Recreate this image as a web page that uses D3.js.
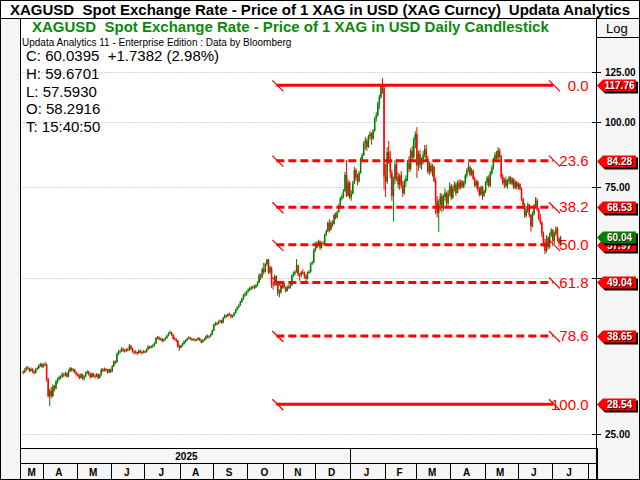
<!DOCTYPE html>
<html>
<head>
<meta charset="utf-8">
<script src="https://cdn.jsdelivr.net/npm/d3@7"></script>
<style>
body{margin:0;background:#fff;}
svg{display:block;font-family:Arial,"Liberation Sans",sans-serif;}
</style>
</head>
<body>
<div id="chart"></div>
<script>
// date axis: one slot per trading day (last slots are empty, right margin)
var monthLabels=["M","A","M","J","J","A","S","O","N","D","J","F","M","A","M","J","J",""];
var monthSlots=[13,22,22,21,23,21,22,23,20,23,22,20,22,22,21,22,23,6];
var yearLabels=["2025",""];
var yearMonths=[10,8];

// daily candles, Mar 2025 .. Jul 2026 (one line per month)
var open=[
33.0,32.9,33.2,33.6,33.5,33.1,33.4,33.0,32.8,33.3,33.5,33.9,34.1,
33.7,34.0,34.1,31.9,29.6,30.3,29.6,30.9,30.6,31.6,31.9,32.2,32.3,32.6,32.5,32.7,32.3,33.1,33.5,33.2,33.3,32.9,
32.6,32.4,32.1,32.6,32.0,32.3,32.8,33.0,32.6,32.2,32.7,32.4,32.3,32.6,32.1,32.5,33.3,33.1,33.4,33.2,32.9,33.3,
33.0,33.8,34.5,34.4,35.7,36.0,36.1,36.5,36.3,36.2,36.4,36.3,37.0,36.5,36.1,35.9,36.0,35.8,36.2,36.0,35.9,
36.1,36.0,36.4,36.9,36.7,36.9,37.0,37.4,38.3,38.4,38.1,38.2,37.8,38.0,38.3,38.7,39.1,39.3,38.9,38.2,38.1,37.9,36.9,
36.7,37.0,37.3,37.7,37.9,38.2,38.4,38.2,38.0,38.1,37.9,38.0,38.3,38.0,37.6,37.9,38.1,38.6,38.5,38.6,38.9,
39.6,40.6,40.9,40.8,41.2,41.4,41.0,41.9,42.4,42.2,42.6,42.5,42.1,42.3,42.8,43.4,43.9,44.3,45.0,45.6,46.4,46.6,
47.1,47.4,47.8,47.9,48.1,48.0,48.4,49.0,50.6,50.2,52.0,51.4,53.2,54.3,51.3,52.4,48.7,48.5,50.4,48.6,46.8,46.9,48.3,
48.7,48.0,47.2,48.1,47.9,48.4,50.6,51.1,51.4,52.9,50.8,50.7,51.3,51.2,50.5,49.9,51.3,51.4,53.4,53.6,
56.4,57.2,58.4,58.9,57.2,58.4,58.2,60.6,61.6,63.9,62.0,63.9,63.6,66.2,65.5,67.1,69.0,71.2,71.8,73.6,79.2,72.1,76.4,
71.6,72.8,76.2,80.9,78.1,76.9,79.8,84.9,86.4,91.0,92.1,89.6,93.9,95.0,92.9,96.2,101.5,103.1,108.6,111.8,117.1,116.3,
78.5,76.8,87.5,85.0,79.8,72.0,77.6,82.8,78.5,75.8,78.9,75.5,72.9,76.8,77.9,83.5,81.2,88.0,85.5,92.5,
94.8,82.5,86.8,82.6,84.7,86.5,88.8,85.0,80.2,82.5,80.3,82.0,77.0,70.5,66.8,69.5,72.0,68.2,71.6,73.0,69.8,72.8,
75.3,71.5,74.5,75.8,73.0,76.4,74.8,76.9,75.1,76.2,78.9,80.6,81.9,79.2,80.7,77.8,75.5,76.8,74.2,72.5,74.9,72.2,
73.6,76.5,78.0,75.4,79.8,81.5,84.8,86.5,85.2,88.2,86.0,78.4,76.2,77.4,75.3,76.8,78.2,76.1,77.6,74.8,76.6,
74.9,75.9,74.3,71.0,69.2,66.0,67.5,69.3,66.2,63.0,66.5,68.9,70.6,67.8,65.2,64.0,61.0,58.6,56.4,59.8,57.5,60.6,
61.8,59.0,60.9,62.3,59.5,58.29];
var high=[
33.2,33.5,33.8,33.8,33.6,33.6,33.5,33.2,33.5,33.7,34.1,34.3,34.3,
34.2,34.5,34.2,32.1,30.6,30.8,31.2,31.1,31.8,32.1,32.4,32.5,32.9,32.8,33.0,32.9,33.3,33.7,33.6,33.5,33.4,33.0,
32.8,32.6,32.8,32.7,32.5,33.0,33.2,33.1,32.8,32.9,32.8,32.6,32.8,32.7,32.7,33.5,33.5,33.6,33.5,33.4,33.5,33.4,
34.0,34.7,34.7,35.9,36.3,36.4,36.8,36.7,36.5,36.6,36.7,37.3,37.2,36.7,36.3,36.3,36.1,36.4,36.4,36.2,36.3,
36.3,36.6,37.1,37.0,37.1,37.3,37.6,38.5,38.7,38.6,38.4,38.3,38.2,38.5,38.9,39.3,39.6,39.4,39.0,38.5,38.3,38.0,37.2,
37.2,37.5,37.9,38.1,38.4,38.6,38.5,38.3,38.3,38.2,38.2,38.5,38.4,38.1,38.1,38.3,38.8,38.9,38.8,39.1,39.8,
40.8,41.2,41.1,41.4,41.6,41.5,42.1,42.6,42.5,42.8,42.9,42.6,42.5,43.0,43.6,44.1,44.5,45.2,45.8,46.6,47.0,47.3,
47.8,48.1,48.3,48.4,48.5,48.7,49.3,51.1,51.0,52.4,53.5,53.5,54.5,54.4,52.9,52.6,49.4,50.8,50.6,48.8,47.6,48.6,49.2,
49.0,48.2,48.4,48.6,48.7,50.8,51.5,51.8,54.4,53.1,51.2,51.6,52.0,51.5,50.9,51.5,51.9,53.6,54.0,57.0,
58.8,58.8,59.3,59.1,58.7,58.9,60.9,62.0,64.3,65.0,64.5,64.6,66.6,67.0,67.5,69.5,71.8,72.6,74.3,80.2,84.5,77.5,77.0,
74.0,77.0,82.0,81.5,79.5,80.5,85.5,87.2,91.8,93.6,93.0,94.5,96.0,95.6,97.0,102.3,104.5,109.5,113.0,118.0,121.6,117.5,
83.0,89.5,92.0,88.0,81.0,78.5,84.5,85.0,80.0,79.5,80.5,77.0,77.5,79.0,84.5,86.0,89.0,90.0,93.5,96.0,
97.8,88.0,88.5,85.5,88.0,90.3,90.5,86.0,84.0,83.5,83.0,82.5,78.0,72.0,71.0,73.0,72.8,72.5,74.5,73.5,74.0,76.5,
76.0,75.5,77.0,76.5,77.2,77.5,77.5,77.3,77.0,79.5,81.5,83.6,82.5,81.5,81.0,78.5,77.5,77.2,75.0,75.5,75.3,74.2,
77.0,78.8,79.0,80.5,82.5,85.5,87.5,88.0,89.5,89.0,86.5,79.5,78.0,78.5,77.6,78.8,78.6,78.3,78.0,77.2,77.0,
76.5,76.3,74.8,71.5,69.8,68.8,70.0,69.5,66.5,67.2,69.5,71.7,71.4,68.3,66.5,64.5,61.5,59.5,60.5,60.2,61.2,62.5,
62.2,61.5,63.0,62.8,60.0,60.3];
var low=[
32.6,32.8,33.1,33.3,32.9,33.0,32.8,32.6,32.7,33.2,33.4,33.7,33.5,
33.6,33.8,31.6,29.4,28.3,29.3,29.5,30.2,30.5,31.3,31.7,31.9,32.1,32.2,32.3,32.1,32.2,32.9,33.0,32.9,32.7,32.4,
32.2,31.9,32.0,31.8,31.7,32.2,32.6,32.4,32.0,32.1,32.2,32.0,32.2,31.9,32.0,32.4,32.9,33.0,33.0,32.7,32.8,32.8,
32.9,33.7,34.1,34.3,35.5,35.8,36.0,36.0,35.9,36.0,36.1,36.2,36.3,35.9,35.6,35.7,35.5,35.7,35.8,35.6,35.8,
35.8,35.9,36.3,36.5,36.6,36.7,36.9,37.3,38.1,37.9,37.9,37.6,37.7,37.9,38.2,38.6,39.0,38.7,38.0,37.9,37.6,36.7,36.2,
36.6,36.9,37.2,37.5,37.8,38.1,38.0,37.8,37.9,37.7,37.8,37.9,37.8,37.4,37.5,37.8,38.0,38.3,38.2,38.5,38.8,
39.5,40.4,40.5,40.7,41.0,40.8,40.9,41.8,41.9,42.1,42.3,41.8,41.9,42.2,42.7,43.3,43.7,44.2,44.8,45.4,46.0,46.2,
46.9,47.2,47.4,47.6,47.6,47.8,48.2,48.9,49.6,50.0,50.8,51.2,52.8,50.9,50.9,47.9,47.5,48.3,48.3,46.2,45.9,46.7,48.0,
47.8,46.9,47.1,47.6,47.7,48.3,50.3,50.6,51.2,50.4,49.4,50.2,50.8,49.9,49.1,49.7,50.9,51.2,53.0,53.4,
56.2,57.0,57.6,56.6,57.0,57.8,58.0,60.3,61.4,61.2,61.8,62.8,63.4,64.9,65.2,66.9,68.8,70.6,71.3,73.4,71.7,71.9,71.0,
70.5,72.5,76.0,77.0,75.6,76.5,79.5,84.0,86.0,88.5,88.0,89.2,92.5,90.5,92.5,95.8,100.2,102.5,106.0,111.0,113.5,74.0,
71.7,76.0,83.0,78.0,70.5,64.3,76.0,77.0,74.5,74.0,74.5,71.7,72.5,75.0,77.0,80.0,80.5,84.0,85.0,89.0,
78.0,80.5,81.5,81.0,83.0,85.5,84.0,79.5,79.0,79.5,78.5,76.5,66.4,65.5,61.4,67.5,67.0,67.5,70.5,68.6,69.0,72.0,
70.8,71.0,73.5,72.0,72.8,74.0,74.2,74.5,74.6,75.8,78.0,80.0,78.5,78.8,77.3,75.0,74.5,73.5,71.8,72.0,70.8,71.7,
73.0,75.5,74.8,75.0,79.0,81.0,84.0,84.3,84.8,85.2,77.5,75.5,74.5,74.8,74.4,76.0,75.8,75.5,74.2,74.3,74.0,
74.2,73.8,70.5,68.0,65.3,65.5,66.8,65.5,61.5,62.6,66.0,68.4,67.2,64.7,63.4,60.0,57.5,55.6,56.0,56.8,57.0,60.0,
58.5,58.2,60.3,58.8,57.5,57.59];
var close=[
32.9,33.2,33.6,33.5,33.1,33.4,33.0,32.8,33.3,33.5,33.9,34.1,33.7,
34.0,34.1,31.9,29.6,30.3,29.6,30.9,30.6,31.6,31.9,32.2,32.3,32.6,32.5,32.7,32.3,33.1,33.5,33.2,33.3,32.9,32.6,
32.4,32.1,32.6,32.0,32.3,32.8,33.0,32.6,32.2,32.7,32.4,32.3,32.6,32.1,32.5,33.3,33.1,33.4,33.2,32.9,33.3,33.0,
33.8,34.5,34.4,35.7,36.0,36.1,36.5,36.3,36.2,36.4,36.3,37.0,36.5,36.1,35.9,36.0,35.8,36.2,36.0,35.9,36.1,
36.0,36.4,36.9,36.7,36.9,37.0,37.4,38.3,38.4,38.1,38.2,37.8,38.0,38.3,38.7,39.1,39.3,38.9,38.2,38.1,37.9,36.9,36.7,
37.0,37.3,37.7,37.9,38.2,38.4,38.2,38.0,38.1,37.9,38.0,38.3,38.0,37.6,37.9,38.1,38.6,38.5,38.6,38.9,39.6,
40.6,40.9,40.8,41.2,41.4,41.0,41.9,42.4,42.2,42.6,42.5,42.1,42.3,42.8,43.4,43.9,44.3,45.0,45.6,46.4,46.6,47.1,
47.4,47.8,47.9,48.1,48.0,48.4,49.0,50.6,50.2,52.0,51.4,53.2,54.3,51.3,52.4,48.7,48.5,50.4,48.6,46.8,46.9,48.3,48.7,
48.0,47.2,48.1,47.9,48.4,50.6,51.1,51.4,52.9,50.8,50.7,51.3,51.2,50.5,49.9,51.3,51.4,53.4,53.6,56.4,
57.2,58.4,58.9,57.2,58.4,58.2,60.6,61.6,63.9,62.0,63.9,63.6,66.2,65.5,67.1,69.0,71.2,71.8,73.6,79.2,72.1,76.4,71.6,
72.8,76.2,80.9,78.1,76.9,79.8,84.9,86.4,91.0,92.1,89.6,93.9,95.0,92.9,96.2,101.5,103.1,108.6,111.8,117.1,116.3,78.5,
76.8,87.5,85.0,79.8,72.0,77.6,82.8,78.5,75.8,78.9,75.5,72.9,76.8,77.9,83.5,81.2,88.0,85.5,92.5,94.8,
82.5,86.8,82.6,84.7,86.5,88.8,85.0,80.2,82.5,80.3,82.0,77.0,70.5,66.8,69.5,72.0,68.2,71.6,73.0,69.8,72.8,75.3,
71.5,74.5,75.8,73.0,76.4,74.8,76.9,75.1,76.2,78.9,80.6,81.9,79.2,80.7,77.8,75.5,76.8,74.2,72.5,74.9,72.2,73.6,
76.5,78.0,75.4,79.8,81.5,84.8,86.5,85.2,88.2,86.0,78.4,76.2,77.4,75.3,76.8,78.2,76.1,77.6,74.8,76.6,74.9,
75.9,74.3,71.0,69.2,66.0,67.5,69.3,66.2,63.0,66.5,68.9,70.6,67.8,65.2,64.0,61.0,58.6,56.4,59.8,57.5,60.6,61.8,
59.0,60.9,62.3,59.5,58.3,60.04];

var axisTicks=[25,50,75,100,125];
var fibLabels=["0.0","23.6","38.2","50.0","61.8","78.6","100.0"];
var fibPrices=[117.76,84.28,68.53,57.97,49.04,38.65,28.54];
var fibStart=160;
var lastPrice=60.04;
var infoLines=["C: 60.0395  +1.7382 (2.98%)","H: 59.6701","L: 57.5930","O: 58.2916","T: 15:40:50"];

function CandleChart(options){

    this.width=options.width||640;
    this.height=options.height||480;
    this.ele=options.ele||"body";
    this.left=20.5;
    this.right=596.5;
    this.top=37;
    this.bottom=448;
    this.data=d3.range(close.length).map(function(i){
        return {i:i,o:open[i],h:high[i],l:low[i],c:close[i]};
    });
    this.x=d3.scaleLinear().domain([0,d3.sum(monthSlots)]).range([22.4,597.3]);
    this.y=d3.scaleLog().domain([23.5,146]).range([this.bottom,this.top]);
    this.svg=d3.select(this.ele).append("svg")
        .attr("width",this.width)
        .attr("height",this.height);
}

CandleChart.prototype.frame=function(){
    var svg=this.svg;
    svg.append("rect").attr("width",this.width).attr("height",this.height).attr("fill","#fff");
    svg.append("rect").attr("x",0).attr("y",18.5).attr("width",this.left).attr("height",462).attr("fill","#f5f5f5");
    svg.append("rect").attr("x",this.right).attr("y",18.5).attr("width",this.width-this.right).attr("height",462).attr("fill","#f5f5f5");
    svg.append("rect").attr("x",this.left).attr("y",this.bottom).attr("width",this.right-this.left).attr("height",32).attr("fill","#f5f5f5");
};

CandleChart.prototype.grid=function(){
    var y=this.y;
    this.svg.append("g").selectAll("line").data(axisTicks).enter().append("line")
        .attr("x1",this.left).attr("x2",593)
        .attr("y1",function(d){return Math.round(y(d))+0.5})
        .attr("y2",function(d){return Math.round(y(d))+0.5})
        .attr("stroke","#aaa").attr("stroke-dasharray","1,2");
};

CandleChart.prototype.info=function(){
    this.svg.append("g").selectAll("text").data(infoLines).enter().append("text")
        .attr("x",26).attr("y",function(d,i){return 61+i*17.8})
        .style("white-space","pre")
        .attr("font-size",15).attr("fill","#000")
        .text(function(d){return d});
};

CandleChart.prototype.chart=function(){
    var x=this.x,y=this.y;
    var g=this.svg.append("g");
    var col=function(d){return d.c>=d.o?"#008000":"#ff0000"};
    var c=g.selectAll(".candle").data(this.data).enter().append("g").attr("class","candle");
    c.append("line")
        .attr("x1",function(d){return x(d.i+0.5)}).attr("x2",function(d){return x(d.i+0.5)})
        .attr("y1",function(d){return y(d.h)}).attr("y2",function(d){return y(d.l)})
        .attr("stroke",col).attr("stroke-width",1);
    c.append("rect")
        .attr("x",function(d){return x(d.i+0.5)-0.75})
        .attr("width",1.5)
        .attr("y",function(d){return y(Math.max(d.o,d.c))})
        .attr("height",function(d){return Math.max(1,Math.abs(y(d.o)-y(d.c)))})
        .attr("fill",col);
};

CandleChart.prototype.fib=function(){
    var y=this.y,x0=this.x(fibStart),x1=553;
    var g=this.svg.append("g");
    fibPrices.forEach(function(p,i){
        var yy=y(p);
        var solid=(i==0||i==fibPrices.length-1);
        g.append("line").attr("x1",x0+4).attr("x2",x1).attr("y1",yy).attr("y2",yy)
            .attr("stroke","#ff0000").attr("stroke-width",3)
            .attr("stroke-dasharray",solid?null:"8,4");
        [x0,549].forEach(function(xx){
            g.append("line").attr("x1",xx).attr("y1",yy-5).attr("x2",xx+11).attr("y2",yy+6)
                .attr("stroke","#ff0000").attr("stroke-width",1.3);
        });
        g.append("text").attr("x",588.5).attr("y",yy+5.3)
            .attr("text-anchor","end").attr("font-size",15).attr("fill","#ff0000")
            .text(fibLabels[i]);
    });
};

CandleChart.prototype.axis=function(){
    var y=this.y,svg=this.svg;
    var g=svg.append("g");
    var tagged=fibPrices.concat([lastPrice]);
    axisTicks.forEach(function(t){
        var yy=Math.round(y(t))+0.5;
        g.append("line").attr("x1",592).attr("x2",601).attr("y1",yy).attr("y2",yy).attr("stroke","#000");
        // a price tag hides the tick label it sits on
        var hidden=tagged.some(function(p){return Math.abs(y(p)-y(t))<9});
        if(!hidden)
        g.append("text").attr("x",605).attr("y",yy+3.5).attr("font-size",10).attr("font-weight","bold")
            .text(d3.format(".2f")(t));
    });
    var tag=function(v,fill){
        var yy=Math.round(y(v))+0.5;
        var p="M597,"+yy+"L603,"+(yy-6)+"L636,"+(yy-6)+"L636,"+(yy+6)+"L603,"+(yy+6)+"Z";
        g.append("path").attr("d",p).attr("transform","translate(2,2)").attr("fill","#000");
        g.append("path").attr("d",p).attr("fill",fill);
        g.append("text").attr("x",620.5).attr("y",yy+4.5).attr("text-anchor","middle")
            .attr("font-size",10).attr("font-weight","bold").attr("fill","#400")
            .text(v.toFixed(2));
        g.append("text").attr("x",619.5).attr("y",yy+3.5).attr("text-anchor","middle")
            .attr("font-size",10).attr("font-weight","bold").attr("fill","#fff")
            .text(v.toFixed(2));
    };
    fibPrices.forEach(function(p){tag(p,"#ff0000")});
    tag(lastPrice,"#008000");
};

CandleChart.prototype.dates=function(){
    var x=this.x,svg=this.svg,left=this.left,right=this.right;
    var g=svg.append("g");
    var starts=[0];
    monthSlots.forEach(function(s,i){starts.push(starts[i]+s)});
    monthLabels.forEach(function(m,i){
        var a=Math.max(left,x(starts[i])),b=Math.min(right,x(starts[i+1]));
        g.append("line").attr("x1",Math.round(b)+0.5).attr("x2",Math.round(b)+0.5)
            .attr("y1",463).attr("y2",480).attr("stroke","#000");
        g.append("text").attr("x",(a+b)/2-1).attr("y",476).attr("text-anchor","middle")
            .attr("font-size",10).attr("font-weight","bold").text(m);
    });
    var m0=0;
    yearLabels.forEach(function(yl,i){
        var a=Math.max(left,x(starts[m0])),b=Math.min(right,x(starts[m0+yearMonths[i]]));
        g.append("line").attr("x1",Math.round(b)+0.5).attr("x2",Math.round(b)+0.5)
            .attr("y1",448).attr("y2",463).attr("stroke","#000");
        g.append("text").attr("x",(a+b)/2).attr("y",460).attr("text-anchor","middle")
            .attr("font-size",10).attr("font-weight","bold").text(yl);
        m0+=yearMonths[i];
    });
};

CandleChart.prototype.borders=function(){
    var svg=this.svg,s="#000";
    var L=function(x1,y1,x2,y2){svg.append("line").attr("x1",x1).attr("y1",y1).attr("x2",x2).attr("y2",y2).attr("stroke",s)};
    L(0,18.5,640,18.5);
    L(this.left,18.5,this.left,480);
    L(this.right,18.5,this.right,480);
    L(this.right,37.5,640,37.5);
    L(this.left,448.5,this.right,448.5);
    L(this.left,463.5,this.right,463.5);
    svg.append("rect").attr("x",0.5).attr("y",0.5).attr("width",639).attr("height",479)
        .attr("fill","none").attr("stroke",s);
};

CandleChart.prototype.titles=function(){
    var svg=this.svg;
    svg.append("text").attr("x",10).attr("y",15).style("white-space","pre")
        .attr("font-size",15).attr("font-weight","bold")
        .text("XAGUSD  Spot Exchange Rate - Price of 1 XAG in USD (XAG Curncy)");
    svg.append("text").attr("x",630).attr("y",15).attr("text-anchor","end")
        .attr("font-size",15).attr("font-weight","bold").text("Updata Analytics");
    svg.append("text").attr("x",32).attr("y",32).style("white-space","pre")
        .attr("font-size",15).attr("font-weight","bold").attr("fill","#0a8a0a")
        .text("XAGUSD  Spot Exchange Rate - Price of 1 XAG in USD Daily Candlestick");
    svg.append("text").attr("x",22).attr("y",46).attr("font-size",10)
        .text("Updata Analytics 11 - Enterprise Edition : Data by Bloomberg");
    svg.append("text").attr("x",606).attr("y",33).attr("font-size",13).text("Log");
};

var c=new CandleChart({ele:"#chart"});
c.frame();
c.grid();
c.info();
c.chart();
c.fib();
c.axis();
c.dates();
c.borders();
c.titles();
</script>
</body>
</html>
